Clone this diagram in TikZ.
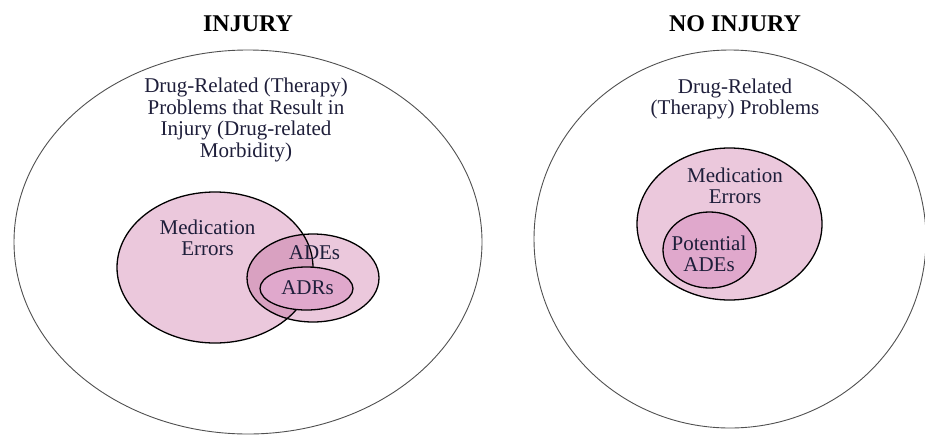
\documentclass[tikz,border=0pt]{standalone}
\usepackage{fontspec}
\setmainfont{Liberation Serif}
\definecolor{pinkA}{HTML}{EBC8DC}
\definecolor{pinkB}{HTML}{D9A1C1}
\definecolor{pinkC}{HTML}{E0A8CC}
\definecolor{txt}{HTML}{1E1E3A}
\definecolor{outerline}{HTML}{505050}
\tikzset{
  outer/.style={draw=outerline, line width=0.9pt},
  inner/.style={draw=black, line width=1.3pt},
  lbl/.style={text=txt, align=center, font=\fontsize{21}{21.5}\selectfont, inner sep=0pt},
  ttl/.style={text=black, font=\fontsize{24}{26}\selectfont\bfseries, inner sep=0pt}
}
\begin{document}
\begin{tikzpicture}[x=1pt,y=-1pt]
\useasboundingbox (0,0) rectangle (925,434);
% ---------------- left: INJURY ----------------
\draw[outer] (248,242) ellipse [x radius=234, y radius=192];
\fill[pinkA] (215,267.5) ellipse [x radius=98, y radius=75.5];
\fill[pinkA] (313,278) ellipse [x radius=66, y radius=44];
\begin{scope}
  \clip (215,267.5) ellipse [x radius=98, y radius=75.5];
  \fill[pinkB] (313,278) ellipse [x radius=66, y radius=44];
\end{scope}
\draw[inner] (215,267.5) ellipse [x radius=98, y radius=75.5];
\draw[inner] (313,278) ellipse [x radius=66, y radius=44];
\draw[inner, fill=pinkC] (306.5,288.5) ellipse [x radius=46.5, y radius=21.5];
\node[ttl] (t1) at (248,24) {INJURY};
\node[lbl] (drp1) at (246,120) {Drug-Related (Therapy)\\Problems that Result in\\Injury (Drug-related\\Morbidity)};
\node[lbl] (me1) at (207.5,238) {Medication\\Errors};
\node[lbl] (ades1) at (314.5,253) {ADEs};
\node[lbl] (adrs1) at (307.5,288) {ADRs};
% ---------------- right: NO INJURY ----------------
\draw[outer] (730,239) ellipse [x radius=196, y radius=189];
\draw[inner, fill=pinkA] (729.5,224) ellipse [x radius=92.5, y radius=76];
\draw[inner, fill=pinkC] (709.5,250) ellipse [x radius=46.5, y radius=38];
\node[ttl] (t2) at (735,24) {NO INJURY};
\node[lbl] (drp2) at (735,99) {Drug-Related\\(Therapy) Problems};
\node[lbl] (me2) at (735,186) {Medication\\Errors};
\node[lbl] (pades) at (709,254) {Potential\\ADEs};
\end{tikzpicture}
\end{document}
